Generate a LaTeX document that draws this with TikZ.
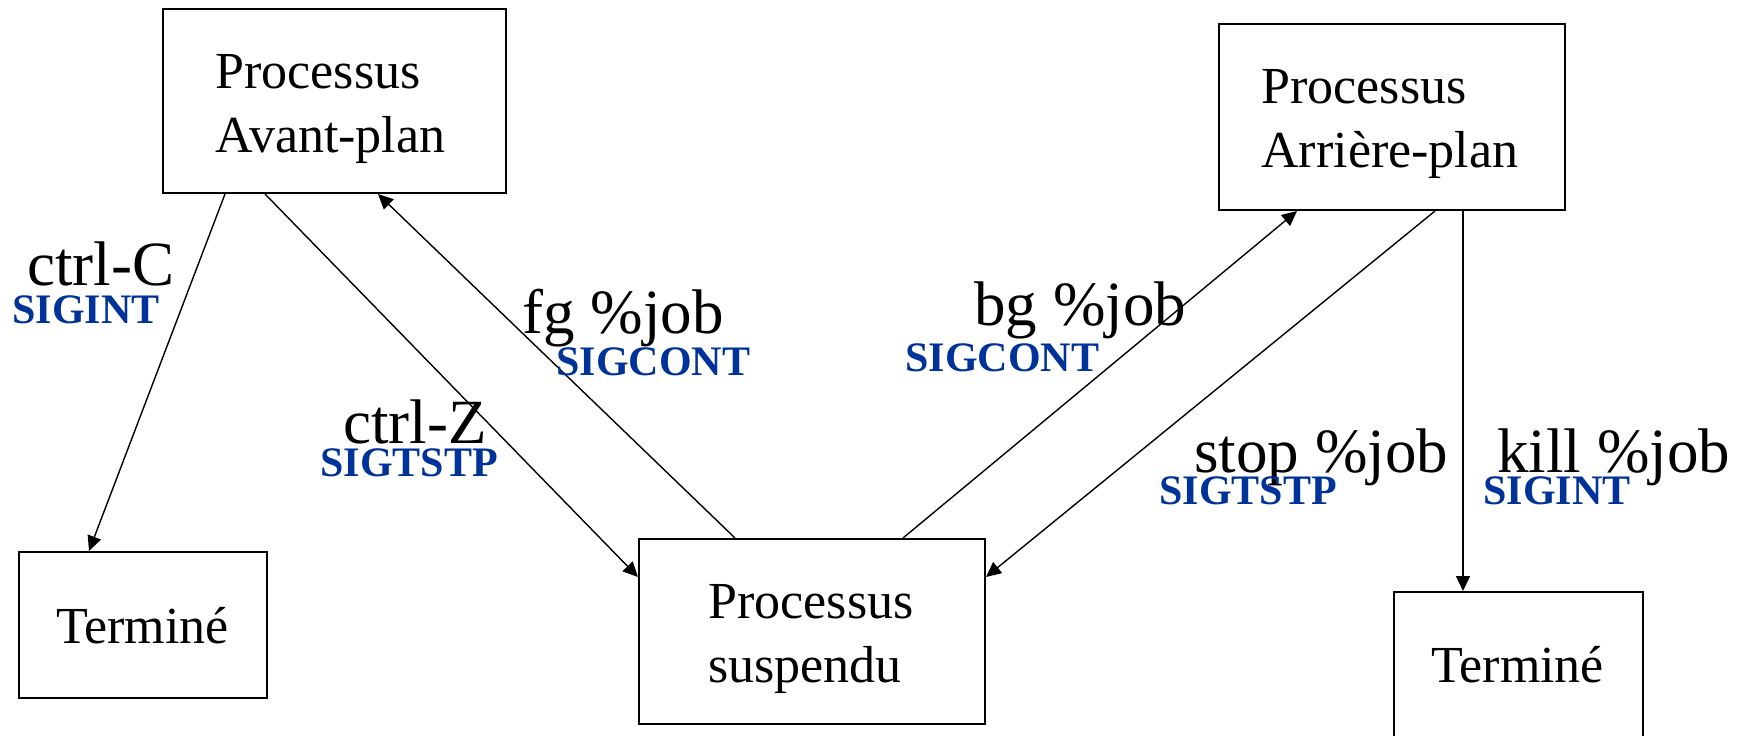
\documentclass[tikz,border=0pt]{standalone}
\usepackage{fontspec}
\setmainfont{Liberation Serif}
\usetikzlibrary{arrows.meta,calc}
\definecolor{sigblue}{RGB}{0,51,153}
\begin{document}
\begin{tikzpicture}[x=0.5pt,y=-0.5pt,
  box/.style={draw, line width=1pt, inner sep=0pt},
  boxtext/.style={inner sep=0pt, align=left, font=\fontsize{26pt}{32pt}\selectfont},
  cmd/.style={inner sep=0pt, anchor=base west, font=\fontsize{31.5pt}{36pt}\selectfont},
  sig/.style={inner sep=0pt, anchor=base west, text=sigblue, font=\bfseries\fontsize{21pt}{24pt}\selectfont},
  conn/.style={line width=0.7pt, -{Triangle[length=7.5pt,width=7pt]}}]
\path[use as bounding box] (0,0) rectangle (1740,735);
\fill[white] (0,0) rectangle (1740,735);
\clip (0,0) rectangle (1740,735);

% boxes
\node[box, minimum width=171.5pt, minimum height=92pt] (avant) at (334.5,101) {};
\node[boxtext, anchor=north west] (avantT) at (215,54) {Processus\\Avant-plan};

\node[box, minimum width=173pt, minimum height=93pt] (arr) at (1392,117) {};
\node[boxtext, anchor=north west] (arrT) at (1261,69) {Processus\\Arrière-plan};

\node[box, minimum width=124pt, minimum height=73pt] (termL) at (143,625) {};
\node[boxtext, anchor=base west] (termLT) at (56,643) {Terminé};

\node[box, minimum width=173pt, minimum height=92.5pt] (susp) at (812,631.5) {};
\node[boxtext, anchor=north west] (suspT) at (708,584) {Processus\\suspendu};

\node[box, minimum width=124.5pt, minimum height=89pt] (termR) at (1518.5,681) {};
\node[boxtext, anchor=base west] (termRT) at (1431,682) {Terminé};

% connectors
\draw[conn] ($(avant.south west)+(63,0)$) -- ($(termL.north west)+(71,0)$);
\draw[conn] ($(avant.south west)+(103,0)$) -- ($(susp.north west)+(0,39)$);
\draw[conn] ($(susp.north west)+(97,0)$) -- ($(avant.south west)+(216,0)$);
\draw[conn] ($(susp.north west)+(265,0)$) -- ($(arr.south west)+(79,0)$);
\draw[conn] ($(arr.south west)+(217,0)$) -- ($(susp.north east)+(0,39)$);
\draw[conn] ($(arr.south west)+(245,0)$) -- ($(termR.north west)+(70,0)$);

% labels
\node[cmd] (lC) at (27,285) {ctrl-C};
\node[sig] (sC) at (12,323) {SIGINT};
\node[cmd] (lZ) at (343,443) {ctrl-Z};
\node[sig] (sZ) at (320,476) {SIGTSTP};
\node[cmd] (lfg) at (522,333) {fg \%job};
\node[sig] (sfg) at (556,375) {SIGCONT};
\node[cmd] (lbg) at (974,325) {bg \%job};
\node[sig] (sbg) at (905,371) {SIGCONT};
\node[cmd] (lstop) at (1194,472) {stop \%job};
\node[sig] (sstop) at (1159,504) {SIGTSTP};
\node[cmd] (lkill) at (1497,472) {kill \%job};
\node[sig] (skill) at (1483,504) {SIGINT};
\end{tikzpicture}
\end{document}
